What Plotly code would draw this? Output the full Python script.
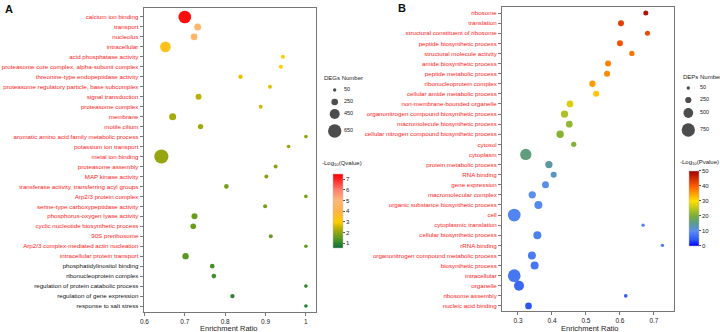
import plotly.graph_objects as go

# ---------------- Panel A data ----------------
a_terms = [
    "calcium ion binding", "transport", "nucleolus", "intracellular",
    "acid phosphatase activity", "proteasome core complex, alpha-subunit complex",
    "threonine-type endopeptidase activity", "proteasome regulatory particle, base subcomplex",
    "signal transduction", "proteasome complex", "membrane", "motile cilium",
    "aromatic amino acid family metabolic process", "potassium ion transport",
    "metal ion binding", "proteasome assembly", "MAP kinase activity",
    "transferase activity, transferring acyl groups", "Arp2/3 protein complex",
    "serine-type carboxypeptidase activity", "phosphorus-oxygen lyase activity",
    "cyclic nucleotide biosynthetic process", "90S preribosome",
    "Arp2/3 complex-mediated actin nucleation", "intracellular protein transport",
    "phosphatidylinositol binding", "ribonucleoprotein complex",
    "regulation of protein catabolic process", "regulation of gene expression",
    "response to salt stress",
]
a_ratio = [0.700, 0.732, 0.723, 0.652, 0.943, 0.938, 0.838, 0.911, 0.734, 0.888,
           0.670, 0.739, 1.000, 0.957, 0.642, 0.925, 0.902, 0.803, 1.000, 0.899,
           0.724, 0.721, 0.913, 1.000, 0.702, 0.768, 0.772, 1.000, 0.818, 1.000]
a_count = [610, 270, 250, 490, 90, 90, 110, 90, 210, 90,
           270, 170, 70, 70, 700, 90, 90, 130, 70, 90,
           210, 190, 90, 70, 230, 130, 130, 70, 110, 70]
a_q = [7.3, 4.8, 4.7, 3.4, 3.0, 3.0, 2.8, 2.75, 2.4, 2.6,
       2.2, 2.15, 2.0, 2.0, 2.05, 1.9, 1.85, 1.75, 1.7, 1.7,
       1.6, 1.6, 1.55, 1.5, 1.45, 1.25, 1.2, 1.05, 1.0, 0.95]
a_n_red = 25
a_xticks = [0.6, 0.7, 0.8, 0.9, 1.0]
a_xticklabels = ["0.6", "0.7", "0.8", "0.9", "1"]
a_cticks = [1, 2, 3, 4, 5, 6, 7]
a_legend_counts = [50, 250, 450, 650]

# ---------------- Panel B data ----------------
b_terms = [
    "ribosome", "translation", "structural constituent of ribosome",
    "peptide biosynthetic process", "structural molecule activity",
    "amide biosynthetic process", "peptide metabolic process",
    "ribonucleoprotein complex", "cellular amide metabolic process",
    "non-membrane-bounded organelle", "organonitrogen compound biosynthetic process",
    "macromolecule biosynthetic process", "cellular nitrogen compound biosynthetic process",
    "cytosol", "cytoplasm", "protein metabolic process", "RNA binding",
    "gene expression", "macromolecular complex", "organic substance biosynthetic process",
    "cell", "cytoplasmic translation", "cellular biosynthetic process", "rRNA binding",
    "organonitrogen compound metabolic process", "biosynthetic process",
    "intracellular", "organelle", "ribosome assembly", "nucleic acid binding",
]
b_ratio = [0.676, 0.603, 0.681, 0.600, 0.635, 0.565, 0.562, 0.519, 0.530, 0.453,
           0.437, 0.451, 0.424, 0.464, 0.323, 0.391, 0.405, 0.381, 0.342, 0.360,
           0.289, 0.668, 0.357, 0.725, 0.341, 0.349, 0.289, 0.303, 0.617, 0.331]
b_count = [163, 234, 163, 234, 185, 234, 234, 255, 234, 284,
           326, 284, 326, 185, 610, 326, 234, 305, 326, 376,
           709, 45, 376, 45, 376, 376, 709, 518, 70, 284]
b_p = [48, 43, 42, 41, 38, 37, 36.5, 35, 32, 27,
       24, 22, 21, 21, 16, 14, 12.5, 10.5, 10, 9.5,
       9, 8.5, 8.5, 8, 8, 7.5, 7.5, 6, 5, 4]
b_xticks = [0.3, 0.4, 0.5, 0.6, 0.7]
b_xticklabels = ["0.3", "0.4", "0.5", "0.6", "0.7"]
b_cticks = [0, 10, 20, 30, 40, 50]
b_legend_counts = [50, 250, 500, 750]

# ---------------- styling ----------------
W, H = 720, 332
FONT = "Liberation Sans, Arial, sans-serif"
RED = "#ff1a1a"
AXC = "#777777"


def size_a(n):
    return 2.5 + n / 60.0


def size_b(n):
    return 2.7 + n * 0.0141


def px_x(p):
    return p / W


def px_y(p):
    return 1 - p / H


a_scale = [[0, "#0d6b35"], [0.063, "#2e8530"], [0.135, "#5f9a22"], [0.2075, "#8fa512"],
           [0.28, "#c8b400"], [0.352, "#ffcc00"], [0.496, "#ffb347"], [0.64, "#ffb878"],
           [0.784, "#ff8070"], [0.928, "#ff2020"], [1, "#ff0000"]]
b_scale = [[0, "#0000ff"], [0.08, "#2a55f5"], [0.2, "#5a8ef0"], [0.3, "#5a9a90"],
           [0.4, "#78ad3a"], [0.6, "#ffe000"], [0.8, "#ff5a00"], [1, "#a00000"]]

fig = go.Figure()

# Panel A
fig.add_trace(go.Scatter(
    x=a_ratio, y=list(range(len(a_terms))), mode="markers",
    xaxis="x", yaxis="y", showlegend=False, hoverinfo="skip",
    marker=dict(size=[size_a(n) for n in a_count], color=a_q, colorscale=a_scale,
                cmin=0.56, cmax=7.5, line=dict(width=0), opacity=1,
                colorbar=dict(x=px_x(332.7), xanchor="left", y=px_y(211), yanchor="middle",
                              len=74, lenmode="pixels", thickness=10, thicknessmode="pixels",
                              tickvals=a_cticks, ticks="outside", ticklen=2, tickwidth=1,
                              tickcolor="#444", outlinewidth=0.5, outlinecolor="#bbbbbb",
                              tickfont=dict(size=6, family=FONT, color="#222"), xpad=0, ypad=0)),
))

# Panel B
fig.add_trace(go.Scatter(
    x=b_ratio, y=list(range(len(b_terms))), mode="markers",
    xaxis="x2", yaxis="y2", showlegend=False, hoverinfo="skip",
    marker=dict(size=[size_b(n) for n in b_count], color=b_p, colorscale=b_scale,
                cmin=0, cmax=50, line=dict(width=0), opacity=1,
                colorbar=dict(x=px_x(689.3), xanchor="left", y=px_y(208.3), yanchor="middle",
                              len=74.7, lenmode="pixels", thickness=10, thicknessmode="pixels",
                              tickvals=b_cticks, ticks="outside", ticklen=2, tickwidth=1,
                              tickcolor="#444", outlinewidth=0.5, outlinecolor="#bbbbbb",
                              tickfont=dict(size=6, family=FONT, color="#222"), xpad=0, ypad=0)),
))

# size legends (overlay axis in pixel units)
a_leg_y = [90, 102, 114, 131]
b_leg_y = [88, 100, 113, 130]
fig.add_trace(go.Scatter(
    x=[334.7] * 4, y=a_leg_y, mode="markers", xaxis="x3", yaxis="y3",
    showlegend=False, hoverinfo="skip",
    marker=dict(size=[size_a(n) for n in a_legend_counts], color="black", line=dict(width=0))))
fig.add_trace(go.Scatter(
    x=[344] * 4, y=a_leg_y, mode="text", xaxis="x3", yaxis="y3",
    text=[str(n) for n in a_legend_counts], textposition="middle right",
    textfont=dict(size=5.5, family=FONT, color="#222"), showlegend=False, hoverinfo="skip"))
fig.add_trace(go.Scatter(
    x=[688.3] * 4, y=b_leg_y, mode="markers", xaxis="x3", yaxis="y3",
    showlegend=False, hoverinfo="skip",
    marker=dict(size=[size_b(n) for n in b_legend_counts], color="black", line=dict(width=0))))
fig.add_trace(go.Scatter(
    x=[700] * 4, y=b_leg_y, mode="text", xaxis="x3", yaxis="y3",
    text=[str(n) for n in b_legend_counts], textposition="middle right",
    textfont=dict(size=5.5, family=FONT, color="#222"), showlegend=False, hoverinfo="skip"))

a_ticktext = [t if i < a_n_red else f'<span style="color:#111">{t}</span>'
              for i, t in enumerate(a_terms)]

axis_common = dict(showline=True, linecolor=AXC, linewidth=1, mirror=True,
                   ticks="outside", ticklen=3, tickwidth=1, tickcolor=AXC,
                   showgrid=False, zeroline=False, automargin=False)

fig.update_layout(
    width=W, height=H, margin=dict(l=0, r=0, t=0, b=0, pad=0, autoexpand=False),
    paper_bgcolor="white", plot_bgcolor="rgba(0,0,0,0)",
    font=dict(family=FONT, size=7, color="#222"),
    xaxis=dict(domain=[px_x(143.6), px_x(316)], range=[0.598, 1.025], anchor="y",
               tickvals=a_xticks, ticktext=a_xticklabels,
               tickfont=dict(size=6.5, family=FONT, color="#222"), **axis_common),
    yaxis=dict(domain=[px_y(312), px_y(8)], range=[29.6, -0.9], anchor="x",
               tickvals=list(range(len(a_terms))), ticktext=a_ticktext,
               tickfont=dict(size=6.2, family=FONT, color=RED), **axis_common),
    xaxis2=dict(domain=[px_x(502), px_x(674)], range=[0.253, 0.759], anchor="y2",
                tickvals=b_xticks, ticktext=b_xticklabels,
                tickfont=dict(size=6.5, family=FONT, color="#222"), **axis_common),
    yaxis2=dict(domain=[px_y(311), px_y(7)], range=[29.5, -0.6], anchor="x2",
                tickvals=list(range(len(b_terms))), ticktext=b_terms,
                tickfont=dict(size=6.2, family=FONT, color=RED), **axis_common),
    xaxis3=dict(domain=[0, 1], range=[0, W], visible=False, fixedrange=True, anchor="y3"),
    yaxis3=dict(domain=[0, 1], range=[H, 0], visible=False, fixedrange=True, anchor="x3"),
    annotations=[
        dict(text="<b>A</b>", x=px_x(3), y=px_y(1), xref="paper", yref="paper",
             xanchor="left", yanchor="top", showarrow=False,
             font=dict(size=11, family=FONT, color="#111")),
        dict(text="<b>B</b>", x=px_x(396), y=px_y(0), xref="paper", yref="paper",
             xanchor="left", yanchor="top", showarrow=False,
             font=dict(size=11, family=FONT, color="#111")),
        dict(text="Enrichment Ratio", x=px_x(229), y=px_y(328), xref="paper", yref="paper",
             xanchor="center", yanchor="middle", showarrow=False,
             font=dict(size=7.5, family=FONT, color="#222")),
        dict(text="Enrichment Ratio", x=px_x(590), y=px_y(328), xref="paper", yref="paper",
             xanchor="center", yanchor="middle", showarrow=False,
             font=dict(size=7.5, family=FONT, color="#222")),
        dict(text="DEGs Number", x=px_x(321.5), y=px_y(78), xref="paper", yref="paper",
             xanchor="left", yanchor="middle", showarrow=False,
             font=dict(size=6, family=FONT, color="#222")),
        dict(text="DEPs Number", x=px_x(680.5), y=px_y(77), xref="paper", yref="paper",
             xanchor="left", yanchor="middle", showarrow=False,
             font=dict(size=6, family=FONT, color="#222")),
        dict(text="-Log<sub>10</sub>(Qvalue)", x=px_x(320), y=px_y(164), xref="paper", yref="paper",
             xanchor="left", yanchor="middle", showarrow=False,
             font=dict(size=6, family=FONT, color="#222")),
        dict(text="-Log<sub>10</sub>(Pvalue)", x=px_x(678), y=px_y(162), xref="paper", yref="paper",
             xanchor="left", yanchor="middle", showarrow=False,
             font=dict(size=6, family=FONT, color="#222")),
    ],
)

fig.write_html("out.html", config={"displayModeBar": False},
               post_script="document.body.style.margin='0px';")
